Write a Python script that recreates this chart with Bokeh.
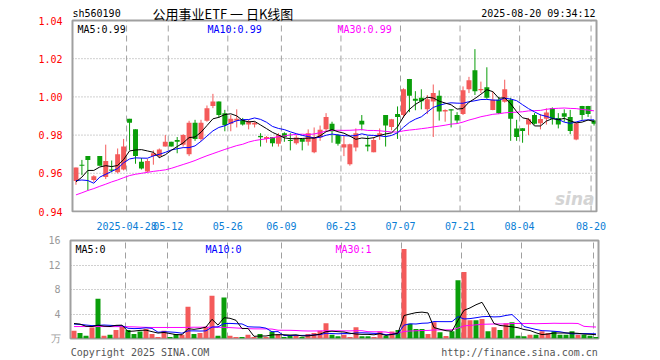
import pandas as pd
from bokeh.plotting import figure
from bokeh.layouts import column
from bokeh.models import Range1d, FixedTicker, Label, ColumnDataSource, PrintfTickFormatter
from bokeh.core.properties import value
from bokeh.embed import file_html
from bokeh.resources import INLINE

# ---------------- data ----------------
opens = [0.956, 0.9645, 0.969, 0.9565, 0.969, 0.958, 0.962, 0.9605, 0.962, 0.9885,
         0.983, 0.966, 0.961, 0.969, 0.969, 0.974, 0.9765, 0.9775, 0.975, 0.970,
         0.9865, 0.978, 0.9875, 0.9953, 0.9976, 0.9915, 0.986, 0.9875, 0.988, 0.9855,
         0.9855, 0.9795, 0.978, 0.979, 0.9755, 0.981, 0.9775, 0.9757, 0.978, 0.9765,
         0.971, 0.9787, 0.983, 0.986, 0.980, 0.9735, 0.9647, 0.9735, 0.9875, 0.975,
         0.971, 0.9795, 0.9905, 0.9843, 0.991, 0.9905, 1.0094, 0.999, 0.9995, 0.9935,
         0.9976, 1.0006, 0.9923, 0.9935, 0.9905, 0.991, 1.004, 1.014, 1.0035, 1.005,
         0.9932, 0.9985, 0.9975, 0.9985, 0.9835, 0.9836, 0.9856, 0.9905, 0.9862, 0.9886,
         0.9941, 0.989, 0.9915, 0.9895, 0.9777, 0.9953, 0.9953, 0.9877]
highs = [0.963, 0.967, 0.969, 0.959, 0.969, 0.975, 0.9667, 0.973, 0.978, 0.9885,
         0.983, 0.968, 0.9675, 0.972, 0.973, 0.980, 0.9765, 0.979, 0.9805, 0.9875,
         0.988, 0.988, 0.9955, 1.0016, 0.9976, 0.9932, 0.9905, 0.9935, 0.989, 0.988,
         0.987, 0.981, 0.9795, 0.979, 0.981, 0.9815, 0.981, 0.980, 0.978, 0.983,
         0.984, 0.985, 0.9915, 0.987, 0.9805, 0.980, 0.9755, 0.9835, 0.9905, 0.9795,
         0.979, 0.9835, 0.9905, 0.9885, 0.995, 1.0045, 1.0094, 1.003, 1.004, 1.001,
         1.0065, 1.0034, 0.9935, 0.9935, 0.992, 1.0055, 1.0105, 1.025, 1.008, 1.0155,
         1.003, 1.000, 1.009, 0.9995, 0.988, 0.9836, 0.989, 0.9915, 0.991, 0.994,
         0.9945, 0.9915, 0.9935, 0.9932, 0.9865, 0.9953, 0.9953, 0.988]
lows = [0.954, 0.959, 0.951, 0.9555, 0.964, 0.957, 0.9605, 0.960, 0.9615, 0.972,
        0.965, 0.962, 0.9605, 0.9645, 0.968, 0.974, 0.974, 0.9705, 0.974, 0.969,
        0.977, 0.977, 0.987, 0.9941, 0.989, 0.982, 0.982, 0.984, 0.985, 0.983,
        0.984, 0.974, 0.976, 0.974, 0.974, 0.9765, 0.972, 0.975, 0.972, 0.9745,
        0.9705, 0.977, 0.982, 0.976, 0.9745, 0.969, 0.964, 0.9715, 0.9825, 0.9715,
        0.971, 0.9775, 0.974, 0.9825, 0.978, 0.989, 0.992, 0.993, 0.9935, 0.991,
        0.979, 0.9876, 0.987, 0.984, 0.986, 0.9905, 1.002, 1.001, 1.002, 0.999,
        0.993, 0.991, 0.997, 0.977, 0.977, 0.976, 0.980, 0.9855, 0.983, 0.9855,
        0.9855, 0.9835, 0.987, 0.9805, 0.9773, 0.988, 0.9895, 0.985]
closes = [0.963, 0.964, 0.967, 0.9585, 0.964, 0.9665, 0.9615, 0.970, 0.974, 0.9865,
          0.969, 0.9625, 0.9665, 0.9705, 0.9725, 0.9765, 0.974, 0.9765, 0.980, 0.9865,
          0.978, 0.9865, 0.994, 0.9976, 0.9905, 0.9852, 0.9885, 0.9885, 0.9855, 0.987,
          0.9865, 0.979, 0.979, 0.9757, 0.980, 0.979, 0.977, 0.9787, 0.9765, 0.981,
          0.979, 0.9828, 0.9895, 0.982, 0.9755, 0.9752, 0.9752, 0.981, 0.9855, 0.974,
          0.9775, 0.981, 0.985, 0.9883, 0.9895, 1.004, 1.0006, 0.998, 0.9977, 0.9988,
          1.002, 0.9923, 0.9932, 0.993, 0.9876, 1.0035, 1.0087, 1.003, 1.0041, 0.9995,
          0.9985, 0.9915, 1.004, 0.9885, 0.979, 0.9822, 0.9883, 0.986, 0.9884, 0.9918,
          0.9885, 0.9855, 0.9896, 0.9822, 0.9862, 0.9905, 0.991, 0.986]
volumes = [1.25, 0.88, 0.45, 1.8, 6.5, 0.45, 0.6, 1.4, 1.95, 1.4,
           0.72, 1.15, 1.6, 0.72, 0.24, 1.25, 0.24, 0.72, 0.6, 5.2,
           0.72, 0.88, 1.9, 7.0, 0.45, 6.7, 0.45, 0.24, 0.24, 0.6,
           0.24, 0.72, 0.24, 1.15, 0.72, 0.24, 0.45, 0.45, 0.24, 0.72,
           0.88, 1.25, 2.5, 0.6, 0.35, 0.6, 0.24, 1.84, 0.35, 0.35,
           0.24, 1.15, 0.45, 1.15, 1.4, 14.6, 2.4, 1.57, 1.57, 0.72,
           2.64, 1.04, 0.4, 1.2, 9.5, 10.85, 3.0, 3.0, 3.2, 1.2,
           1.84, 1.4, 2.48, 2.64, 0.45, 0.35, 0.6, 0.6, 1.2, 0.88,
           1.2, 0.6, 0.6, 1.2, 0.6, 0.6, 0.45, 0.24]

# moving-average values before enough history is visible
ma5_head = [0.9555, 0.958, 0.9615, 0.9615]
ma10_head = [0.9562, 0.9565, 0.9562, 0.9548, 0.958, 0.9595, 0.961, 0.9625, 0.9655]
ma30_head = [0.9487, 0.9498, 0.951, 0.952, 0.9532, 0.9543, 0.9555, 0.9565, 0.9577, 0.9588,
             0.9595, 0.96, 0.9605, 0.961, 0.9614, 0.9618, 0.9626, 0.9636, 0.9646, 0.9656,
             0.9667, 0.968, 0.9692, 0.9703, 0.9714, 0.9725, 0.9735, 0.9745, 0.9752]
vma5_head = [2.45, 2.35, 2.0, 1.95]
vma10_head = [2.35, 2.3, 2.2, 2.1, 2.15, 2.2, 2.15, 2.1, 2.1]
vma30_head = [1.95, 1.95, 1.95, 1.95, 1.95, 1.95, 1.94, 1.94, 1.93, 1.92,
              1.9, 1.85, 1.82, 1.8, 1.8, 1.8, 1.8, 1.8, 1.8, 1.82,
              1.84, 1.84, 1.84, 1.84, 1.84, 1.82, 1.78, 1.72, 1.66]

tick_index = [9, 16, 26, 35, 45, 55, 65, 75, 87]
tick_labels = ["2025-04-28", "05-12", "05-26", "06-09", "06-23", "07-07", "07-21", "08-04", "08-20"]
price_lo, price_hi = 0.94, 1.04
price_ticks = [0.94, 0.96, 0.98, 1.00, 1.02, 1.04]
vol_ticks = [0, 4, 8, 12, 16]
vol_unit = "万"
title_left = "sh560190"
title_main = "公用事业ETF 一 日K线图"
title_time = "2025-08-20 09:34:12"
footer_texts = ["Copyright 2025 SINA.COM", "http://finance.sina.com.cn"]
footer_pos = [11.5, 74.75]

# ---------------- derived ----------------
def moving(vals, w, head):
    s = pd.Series(vals, dtype=float).rolling(w).mean()
    s.iloc[:w - 1] = head
    return s.tolist()

n = len(closes)
xc = [i + 0.5 for i in range(n)]
ma5 = moving(closes, 5, ma5_head)
ma10 = moving(closes, 10, ma10_head)
ma30 = moving(closes, 30, ma30_head)
vma5 = moving(volumes, 5, vma5_head)
vma10 = moving(volumes, 10, vma10_head)
vma30 = moving(volumes, 30, vma30_head)

RED = "#f45a5a"
GREEN = "#0a9e0a"
colors = [RED if c >= o else GREEN for o, c in zip(opens, closes)]
tops = [max(o, c) for o, c in zip(opens, closes)]
bots = [min(o, c) if max(o, c) - min(o, c) > 0.0006 else max(o, c) - 0.0006
        for o, c in zip(opens, closes)]

src = ColumnDataSource(dict(x=xc, top=tops, bottom=bots, high=highs, low=lows,
                            color=colors, vol=volumes))

X0, X1 = -1 / 12, n - 1 / 12          # edges of the drawn chart box
MONO = "DejaVu Sans Mono"
GRID = "#a0a0a0"
BORDER = "#a0a0a0"

# ---------------- price panel (frame also holds the heading row) ----------------
PP = (price_hi - price_lo) / 191.0     # price per pixel
p1 = figure(width=660, height=232,
            x_range=Range1d(X0 - 2 / 6, X1 + 2 / 6),
            y_range=Range1d(price_lo - 1 * PP, price_hi + 20 * PP),
            output_backend="svg", toolbar_location=None,
            min_border_left=68, min_border_right=60, min_border_top=0, min_border_bottom=20)
p1.outline_line_color = None
p1.background_fill_color = "white"
p1.border_fill_color = "white"
p1.grid.visible = False
p1.yaxis.ticker = FixedTicker(ticks=price_ticks)
p1.yaxis.formatter = PrintfTickFormatter(format="%.2f")
p1.yaxis.axis_line_color = None
p1.yaxis.major_tick_line_color = None
p1.yaxis.minor_tick_line_color = None
p1.yaxis.major_label_text_color = "#ff0000"
p1.yaxis.major_label_text_font = MONO
p1.yaxis.major_label_text_font_size = "10px"
p1.yaxis.major_label_standoff = 2
p1.xaxis.ticker = FixedTicker(ticks=tick_index)
p1.xaxis.major_label_overrides = {t: s for t, s in zip(tick_index, tick_labels)}
p1.xaxis.axis_line_color = None
p1.xaxis.major_tick_line_color = None
p1.xaxis.minor_tick_line_color = None
p1.xaxis.major_label_text_color = "#0a7ed6"
p1.xaxis.major_label_text_font = MONO
p1.xaxis.major_label_text_font_size = "10px"
p1.xaxis.major_label_standoff = 3

# grid lines inside the chart box
hg = price_ticks[1:-1]
p1.segment(x0=[X0] * len(hg), y0=hg, x1=[X1] * len(hg), y1=hg,
           line_color=GRID, line_dash="1 2", line_width=1)
p1.segment(x0=tick_index, y0=[price_lo] * len(tick_index), x1=tick_index,
           y1=[price_hi] * len(tick_index), line_color=GRID, line_dash="6 4", line_width=1)

p1.segment(x0="x", y0="low", x1="x", y1="high", line_color="color", line_width=1, source=src)
p1.vbar(x="x", width=5 / 6, top="top", bottom="bottom", fill_color="color",
        line_color=None, source=src)
p1.line(xc, ma30, line_color="#ff00ff", line_width=1)
p1.line(xc, ma10, line_color="#0000ff", line_width=1)
p1.line(xc, ma5, line_color="#000000", line_width=1)

# chart box border
p1.quad(left=[X0], right=[X1], bottom=[price_lo], top=[price_hi],
        fill_color=None, line_color=BORDER, line_width=2)

# heading row
HY = price_hi + 7.5 * PP
p1.text(x=[X0], y=[HY], text=[title_left], text_font=value(MONO),
        text_font_size="10px", text_baseline="middle", text_align="left", text_color="#000000")
p1.text(x=[X0], y=[HY], text=[title_main], text_font=value("Noto Sans CJK SC"),
        text_font_size="13px", text_baseline="middle", text_align="left", x_offset=80,
        text_color="#000000")
p1.text(x=[X1], y=[HY], text=[title_time], text_font=value(MONO),
        text_font_size="10px", text_baseline="middle", text_align="right", x_offset=-1,
        text_color="#000000")


def lab(p, x, y, text, color, size="10px", font=MONO, align="left",
        baseline="top", xo=0, yo=0, style_="normal"):
    p.add_layout(Label(x=x, y=y, text=text, text_color=color, text_font_size=size,
                       text_font=font, text_align=align, text_baseline=baseline,
                       x_offset=xo, y_offset=yo, text_font_style=style_))


lab(p1, X0, price_hi, "MA5:%.2f" % ma5[-1], "#000000", xo=5, yo=-3)
lab(p1, X0, price_hi, "MA10:%.2f" % ma10[-1], "#0000ff", xo=135, yo=-3)
lab(p1, X0, price_hi, "MA30:%.2f" % ma30[-1], "#ff00ff", xo=265, yo=-3)
lab(p1, X1, price_lo, "sina", "#d4d4d4", size="17px", font="DejaVu Sans",
    align="right", baseline="bottom", xo=-2, yo=3, style_="bold italic")

# ---------------- volume panel ----------------
p2 = figure(width=660, height=128, x_range=Range1d(X0, X1), y_range=Range1d(0, 16),
            output_backend="svg", toolbar_location=None,
            min_border_left=70, min_border_right=62, min_border_top=8, min_border_bottom=20)
p2.outline_line_color = BORDER
p2.outline_line_width = 2
p2.background_fill_color = "white"
p2.border_fill_color = "white"
p2.yaxis.ticker = FixedTicker(ticks=vol_ticks)
p2.yaxis.major_label_overrides = {0: vol_unit}
p2.yaxis.axis_line_color = None
p2.yaxis.major_tick_line_color = None
p2.yaxis.minor_tick_line_color = None
p2.yaxis.major_label_text_color = "#999999"
p2.yaxis.major_label_text_font = MONO
p2.yaxis.major_label_text_font_size = "10px"
p2.yaxis.major_label_standoff = 4
p2.xgrid.ticker = FixedTicker(ticks=tick_index)
p2.xgrid.grid_line_color = GRID
p2.xgrid.grid_line_dash = "6 4"
p2.ygrid.ticker = FixedTicker(ticks=vol_ticks[1:-1])
p2.ygrid.grid_line_color = GRID
p2.ygrid.grid_line_dash = "1 2"
p2.xaxis.ticker = FixedTicker(ticks=footer_pos)
p2.xaxis.major_label_overrides = {t: s for t, s in zip(footer_pos, footer_texts)}
p2.xaxis.axis_line_color = None
p2.xaxis.major_tick_line_color = None
p2.xaxis.minor_tick_line_color = None
p2.xaxis.major_label_text_color = "#555555"
p2.xaxis.major_label_text_font = MONO
p2.xaxis.major_label_text_font_size = "10px"
p2.xaxis.major_label_standoff = 2

p2.vbar(x="x", width=5 / 6, top="vol", bottom=0, fill_color="color", line_color=None, source=src)
p2.line(xc, vma30, line_color="#ff00ff", line_width=1)
p2.line(xc, vma10, line_color="#0000ff", line_width=1)
p2.line(xc, vma5, line_color="#000000", line_width=1)

lab(p2, X0, 16, "MA5:0", "#000000", xo=5, yo=-3)
lab(p2, X0, 16, "MA10:0", "#0000ff", xo=135, yo=-3)
lab(p2, X0, 16, "MA30:1", "#ff00ff", xo=265, yo=-3)

layout = column(p1, p2, spacing=0)
open("out.html", "w").write(file_html(layout, INLINE))
